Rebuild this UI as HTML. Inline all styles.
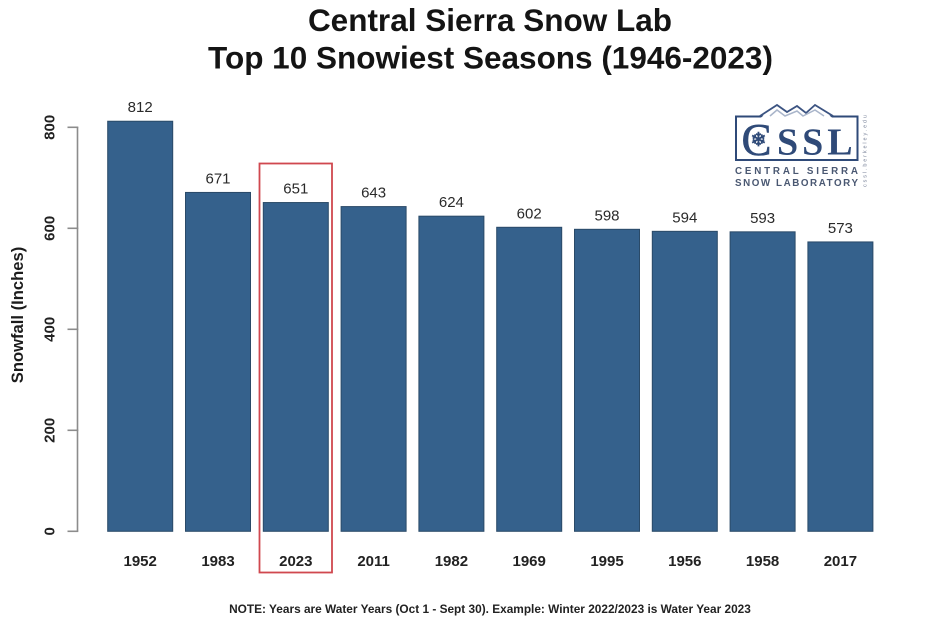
<!DOCTYPE html>
<html>
<head>
<meta charset="utf-8">
<style>
html,body{margin:0;padding:0;background:#fff;width:943px;height:628px;overflow:hidden}
svg{display:block;font-family:"Liberation Sans",Arial,sans-serif}
</style>
</head>
<body>
<svg id="chart" width="943" height="628" viewBox="0 0 943 628" xmlns="http://www.w3.org/2000/svg">
  <rect x="0" y="0" width="943" height="628" fill="#ffffff"/>
  <text x="490" y="31" text-anchor="middle" font-size="31.5" font-weight="bold" fill="#141414">Central Sierra Snow Lab</text>
  <text x="490.5" y="68.5" text-anchor="middle" font-size="31.5" font-weight="bold" fill="#141414">Top 10 Snowiest Seasons (1946-2023)</text>
  <text transform="translate(23,315) rotate(-90)" text-anchor="middle" font-size="16.6" font-weight="bold" fill="#1c1c1c">Snowfall (Inches)</text>
  <g id="bars"></g>
  <g id="y-axis"></g>
  <g id="x-axis"></g>
  <rect x="259.5" y="163.5" width="72.5" height="409" fill="none" stroke="#d0484f" stroke-width="1.8"/>
  <g>
    <rect x="736" y="116.5" width="121.5" height="43.5" fill="none" stroke="#2f4a78" stroke-width="2"/>
    <polygon points="761,117.5 777,105 787,112 797,106 806,113 815,105 832,117.5" fill="#ffffff"/>
    <polyline points="760,116 777,105 787,112 797,106 806,113 815,105 833,116" fill="none" stroke="#3c5482" stroke-width="1.8"/>
    <polyline points="770,116 777,110 785,116 797,111 803,116 815,110 824,116" fill="none" stroke="#a9b5ca" stroke-width="1.5"/>
    <text x="741.5" y="155" font-family="Liberation Serif" font-size="45" fill="#2f4a78" stroke="#2f4a78" stroke-width="0.6">C</text>
    <text x="758.5" y="146" text-anchor="middle" font-size="19" font-weight="bold" fill="#2f4a78">❄</text>
    <text x="777" y="154.5" font-family="Liberation Serif" font-size="38" font-weight="bold" letter-spacing="4" fill="#2f4a78">SSL</text>
    <text x="735" y="174" font-size="9.8" font-weight="bold" textLength="123" lengthAdjust="spacing" fill="#4a5872">CENTRAL SIERRA</text>
    <text x="735" y="186" font-size="9.8" font-weight="bold" textLength="123" lengthAdjust="spacing" fill="#4a5872">SNOW LABORATORY</text>
    <text transform="translate(866.5,187) rotate(-90)" font-size="5.5" textLength="72" lengthAdjust="spacing" fill="#7a849a">cssl.berkeley.edu</text>
  </g>
  <text x="490" y="613" text-anchor="middle" font-size="11.85" font-weight="bold" fill="#222222">NOTE: Years are Water Years (Oct 1 - Sept 30). Example: Winter 2022/2023 is Water Year 2023</text>
</svg>
<script>
var categories = ['1952','1983','2023','2011','1982','1969','1995','1956','1958','2017'];
var snowfall = [812,671,651,643,624,602,598,594,593,573];
var yTicks = [0,200,400,600,800];

var NS = 'http://www.w3.org/2000/svg';
var yBase = 531.3, unitsToPx = 404 / 800;
var firstBarLeft = 107.7, barStep = 77.8, barWidth = 65;

function yScale(v){ return yBase - v * unitsToPx; }
function xLeft(i){ return firstBarLeft + i * barStep; }
function xCenter(i){ return xLeft(i) + barWidth / 2; }
function make(tag, attrs, text){
  var el = document.createElementNS(NS, tag);
  for (var k in attrs) el.setAttribute(k, attrs[k]);
  if (text !== undefined) el.textContent = text;
  return el;
}

var barsGroup = document.getElementById('bars');
var xAxisGroup = document.getElementById('x-axis');
var yAxisGroup = document.getElementById('y-axis');

categories.forEach(function(cat, i){
  var v = snowfall[i];
  var bar = make('rect', {x: xLeft(i), y: yScale(v), width: barWidth, height: yBase - yScale(v), fill: '#35618c', stroke: '#2a4a68', 'stroke-width': 1});
  
  
  barsGroup.appendChild(bar);

  var valueLabel = make('text', {x: xCenter(i), y: yScale(v) - 9, 'text-anchor': 'middle', 'font-size': 15, fill: '#2a2a2a'}, String(v));
  
  
  barsGroup.appendChild(valueLabel);

  var catLabel = make('text', {x: xCenter(i), y: 566, 'text-anchor': 'middle', 'font-size': 15, 'font-weight': 'bold', fill: '#222222'}, cat);
  
  
  xAxisGroup.appendChild(catLabel);
});

var axisLine = make('line', {x1: 77.5, x2: 77.5, y1: yScale(yTicks[0]), y2: yScale(yTicks[yTicks.length - 1]), stroke: '#8c8c8c', 'stroke-width': 1.6});


yAxisGroup.appendChild(axisLine);

yTicks.forEach(function(t){
  var tick = make('line', {x1: 67.5, x2: 78.3, y1: yScale(t), y2: yScale(t), stroke: '#8c8c8c', 'stroke-width': 1.6});
  
  
  yAxisGroup.appendChild(tick);

  var label = make('text', {transform: 'translate(54.5,' + yScale(t) + ') rotate(-90)', 'text-anchor': 'middle', 'font-size': 15, 'font-weight': 'bold', fill: '#222222'}, String(t));
  
  
  yAxisGroup.appendChild(label);
});
</script>
</body>
</html>
